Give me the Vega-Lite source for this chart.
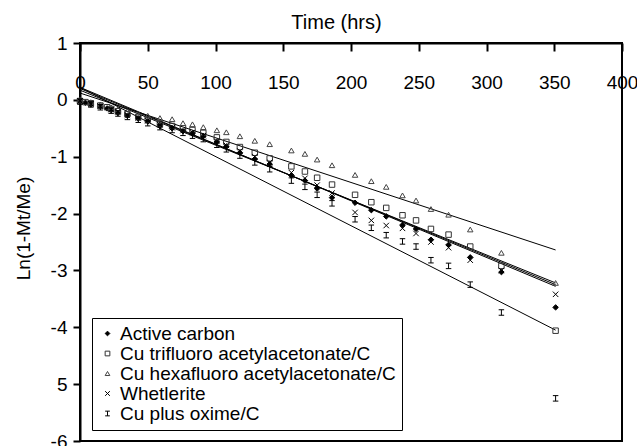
{
  "$schema": "https://vega.github.io/schema/vega-lite/v6.json",
  "width": 542,
  "height": 398,
  "autosize": {"type": "none"},
  "padding": {"left": 80, "top": 43, "right": 15, "bottom": 5},
  "background": "white",
  "config": {
    "font": "Liberation Sans",
    "view": {"stroke": "black", "strokeWidth": 2},
    "axis": {"labelColor": "black", "titleColor": "black", "tickColor": "black", "domainColor": "black", "grid": false, "labelFontSize": 19, "titleFontSize": 20, "titleFontWeight": "normal", "tickWidth": 2}
  },
  "datasets": {
    "fits": [
      {"series": "Cu hexafluoro acetylacetonate/C", "t": 0, "v": 0.12},
      {"series": "Cu hexafluoro acetylacetonate/C", "t": 351, "v": -2.64},
      {"series": "Cu trifluoro acetylacetonate/C", "t": 0, "v": 0.17},
      {"series": "Cu trifluoro acetylacetonate/C", "t": 351, "v": -3.22},
      {"series": "Active carbon", "t": 0, "v": 0.22},
      {"series": "Active carbon", "t": 351, "v": -3.28},
      {"series": "Whetlerite", "t": 0, "v": 0.2},
      {"series": "Whetlerite", "t": 351, "v": -3.25},
      {"series": "Cu plus oxime/C", "t": 0, "v": 0.22},
      {"series": "Cu plus oxime/C", "t": 351, "v": -4.05}
    ],
    "points": [
      {"series": "Active carbon", "t": 0, "v": -0.03},
      {"series": "Active carbon", "t": 4, "v": -0.05},
      {"series": "Active carbon", "t": 8, "v": -0.08},
      {"series": "Active carbon", "t": 15, "v": -0.12},
      {"series": "Active carbon", "t": 20, "v": -0.15},
      {"series": "Active carbon", "t": 23, "v": -0.18},
      {"series": "Active carbon", "t": 28, "v": -0.23},
      {"series": "Active carbon", "t": 35, "v": -0.28},
      {"series": "Active carbon", "t": 43, "v": -0.33},
      {"series": "Active carbon", "t": 50, "v": -0.38},
      {"series": "Active carbon", "t": 59, "v": -0.46},
      {"series": "Active carbon", "t": 68, "v": -0.5},
      {"series": "Active carbon", "t": 76, "v": -0.55},
      {"series": "Active carbon", "t": 83, "v": -0.59},
      {"series": "Active carbon", "t": 91, "v": -0.64},
      {"series": "Active carbon", "t": 101, "v": -0.74},
      {"series": "Active carbon", "t": 108, "v": -0.82},
      {"series": "Active carbon", "t": 118, "v": -0.93},
      {"series": "Active carbon", "t": 129, "v": -1.04},
      {"series": "Active carbon", "t": 140, "v": -1.13},
      {"series": "Active carbon", "t": 156, "v": -1.33},
      {"series": "Active carbon", "t": 166, "v": -1.42},
      {"series": "Active carbon", "t": 175, "v": -1.56},
      {"series": "Active carbon", "t": 186, "v": -1.72},
      {"series": "Active carbon", "t": 203, "v": -1.81},
      {"series": "Active carbon", "t": 215, "v": -1.94},
      {"series": "Active carbon", "t": 226, "v": -2.05},
      {"series": "Active carbon", "t": 238, "v": -2.2},
      {"series": "Active carbon", "t": 248, "v": -2.27},
      {"series": "Active carbon", "t": 259, "v": -2.46},
      {"series": "Active carbon", "t": 272, "v": -2.55},
      {"series": "Active carbon", "t": 288, "v": -2.77},
      {"series": "Active carbon", "t": 311, "v": -3.03},
      {"series": "Active carbon", "t": 351, "v": -3.65},
      {"series": "Cu trifluoro acetylacetonate/C", "t": 0, "v": -0.02},
      {"series": "Cu trifluoro acetylacetonate/C", "t": 4, "v": -0.04},
      {"series": "Cu trifluoro acetylacetonate/C", "t": 8, "v": -0.06},
      {"series": "Cu trifluoro acetylacetonate/C", "t": 15, "v": -0.1},
      {"series": "Cu trifluoro acetylacetonate/C", "t": 20, "v": -0.13},
      {"series": "Cu trifluoro acetylacetonate/C", "t": 23, "v": -0.16},
      {"series": "Cu trifluoro acetylacetonate/C", "t": 28, "v": -0.2},
      {"series": "Cu trifluoro acetylacetonate/C", "t": 35, "v": -0.25},
      {"series": "Cu trifluoro acetylacetonate/C", "t": 43, "v": -0.3},
      {"series": "Cu trifluoro acetylacetonate/C", "t": 50, "v": -0.35},
      {"series": "Cu trifluoro acetylacetonate/C", "t": 59, "v": -0.42},
      {"series": "Cu trifluoro acetylacetonate/C", "t": 68, "v": -0.46},
      {"series": "Cu trifluoro acetylacetonate/C", "t": 76, "v": -0.5},
      {"series": "Cu trifluoro acetylacetonate/C", "t": 83, "v": -0.53},
      {"series": "Cu trifluoro acetylacetonate/C", "t": 91, "v": -0.58},
      {"series": "Cu trifluoro acetylacetonate/C", "t": 101, "v": -0.66},
      {"series": "Cu trifluoro acetylacetonate/C", "t": 108, "v": -0.74},
      {"series": "Cu trifluoro acetylacetonate/C", "t": 118, "v": -0.83},
      {"series": "Cu trifluoro acetylacetonate/C", "t": 129, "v": -0.93},
      {"series": "Cu trifluoro acetylacetonate/C", "t": 140, "v": -1.03},
      {"series": "Cu trifluoro acetylacetonate/C", "t": 156, "v": -1.17},
      {"series": "Cu trifluoro acetylacetonate/C", "t": 166, "v": -1.26},
      {"series": "Cu trifluoro acetylacetonate/C", "t": 175, "v": -1.37},
      {"series": "Cu trifluoro acetylacetonate/C", "t": 186, "v": -1.49},
      {"series": "Cu trifluoro acetylacetonate/C", "t": 203, "v": -1.67},
      {"series": "Cu trifluoro acetylacetonate/C", "t": 215, "v": -1.8},
      {"series": "Cu trifluoro acetylacetonate/C", "t": 226, "v": -1.9},
      {"series": "Cu trifluoro acetylacetonate/C", "t": 238, "v": -2.03},
      {"series": "Cu trifluoro acetylacetonate/C", "t": 248, "v": -2.12},
      {"series": "Cu trifluoro acetylacetonate/C", "t": 259, "v": -2.27},
      {"series": "Cu trifluoro acetylacetonate/C", "t": 272, "v": -2.37},
      {"series": "Cu trifluoro acetylacetonate/C", "t": 288, "v": -2.58},
      {"series": "Cu trifluoro acetylacetonate/C", "t": 311, "v": -2.92},
      {"series": "Cu trifluoro acetylacetonate/C", "t": 351, "v": -4.06},
      {"series": "Cu hexafluoro acetylacetonate/C", "t": 0, "v": 0.0},
      {"series": "Cu hexafluoro acetylacetonate/C", "t": 8, "v": -0.04},
      {"series": "Cu hexafluoro acetylacetonate/C", "t": 15, "v": -0.08},
      {"series": "Cu hexafluoro acetylacetonate/C", "t": 23, "v": -0.13},
      {"series": "Cu hexafluoro acetylacetonate/C", "t": 28, "v": -0.16},
      {"series": "Cu hexafluoro acetylacetonate/C", "t": 35, "v": -0.2},
      {"series": "Cu hexafluoro acetylacetonate/C", "t": 43, "v": -0.24},
      {"series": "Cu hexafluoro acetylacetonate/C", "t": 50, "v": -0.28},
      {"series": "Cu hexafluoro acetylacetonate/C", "t": 59, "v": -0.32},
      {"series": "Cu hexafluoro acetylacetonate/C", "t": 68, "v": -0.34},
      {"series": "Cu hexafluoro acetylacetonate/C", "t": 76, "v": -0.41},
      {"series": "Cu hexafluoro acetylacetonate/C", "t": 83, "v": -0.43},
      {"series": "Cu hexafluoro acetylacetonate/C", "t": 91, "v": -0.48},
      {"series": "Cu hexafluoro acetylacetonate/C", "t": 101, "v": -0.535},
      {"series": "Cu hexafluoro acetylacetonate/C", "t": 108, "v": -0.57},
      {"series": "Cu hexafluoro acetylacetonate/C", "t": 118, "v": -0.64},
      {"series": "Cu hexafluoro acetylacetonate/C", "t": 129, "v": -0.72},
      {"series": "Cu hexafluoro acetylacetonate/C", "t": 140, "v": -0.78},
      {"series": "Cu hexafluoro acetylacetonate/C", "t": 156, "v": -0.89},
      {"series": "Cu hexafluoro acetylacetonate/C", "t": 166, "v": -0.95},
      {"series": "Cu hexafluoro acetylacetonate/C", "t": 175, "v": -1.05},
      {"series": "Cu hexafluoro acetylacetonate/C", "t": 186, "v": -1.15},
      {"series": "Cu hexafluoro acetylacetonate/C", "t": 203, "v": -1.32},
      {"series": "Cu hexafluoro acetylacetonate/C", "t": 215, "v": -1.43},
      {"series": "Cu hexafluoro acetylacetonate/C", "t": 226, "v": -1.53},
      {"series": "Cu hexafluoro acetylacetonate/C", "t": 238, "v": -1.68},
      {"series": "Cu hexafluoro acetylacetonate/C", "t": 248, "v": -1.77},
      {"series": "Cu hexafluoro acetylacetonate/C", "t": 259, "v": -1.92},
      {"series": "Cu hexafluoro acetylacetonate/C", "t": 272, "v": -2.02},
      {"series": "Cu hexafluoro acetylacetonate/C", "t": 288, "v": -2.28},
      {"series": "Cu hexafluoro acetylacetonate/C", "t": 311, "v": -2.69},
      {"series": "Cu hexafluoro acetylacetonate/C", "t": 351, "v": -3.22},
      {"series": "Whetlerite", "t": 0, "v": -0.02},
      {"series": "Whetlerite", "t": 8, "v": -0.07},
      {"series": "Whetlerite", "t": 15, "v": -0.11},
      {"series": "Whetlerite", "t": 23, "v": -0.17},
      {"series": "Whetlerite", "t": 28, "v": -0.21},
      {"series": "Whetlerite", "t": 35, "v": -0.27},
      {"series": "Whetlerite", "t": 43, "v": -0.32},
      {"series": "Whetlerite", "t": 50, "v": -0.37},
      {"series": "Whetlerite", "t": 59, "v": -0.44},
      {"series": "Whetlerite", "t": 68, "v": -0.49},
      {"series": "Whetlerite", "t": 76, "v": -0.54},
      {"series": "Whetlerite", "t": 83, "v": -0.58},
      {"series": "Whetlerite", "t": 91, "v": -0.63},
      {"series": "Whetlerite", "t": 101, "v": -0.73},
      {"series": "Whetlerite", "t": 108, "v": -0.8},
      {"series": "Whetlerite", "t": 118, "v": -0.9},
      {"series": "Whetlerite", "t": 129, "v": -1.0},
      {"series": "Whetlerite", "t": 140, "v": -1.1},
      {"series": "Whetlerite", "t": 156, "v": -1.28},
      {"series": "Whetlerite", "t": 166, "v": -1.38},
      {"series": "Whetlerite", "t": 175, "v": -1.5},
      {"series": "Whetlerite", "t": 186, "v": -1.64},
      {"series": "Whetlerite", "t": 203, "v": -1.98},
      {"series": "Whetlerite", "t": 215, "v": -2.12},
      {"series": "Whetlerite", "t": 226, "v": -2.21},
      {"series": "Whetlerite", "t": 238, "v": -2.26},
      {"series": "Whetlerite", "t": 248, "v": -2.35},
      {"series": "Whetlerite", "t": 259, "v": -2.5},
      {"series": "Whetlerite", "t": 272, "v": -2.6},
      {"series": "Whetlerite", "t": 288, "v": -2.82},
      {"series": "Whetlerite", "t": 311, "v": -3.0},
      {"series": "Whetlerite", "t": 351, "v": -3.42},
      {"series": "Cu plus oxime/C", "t": 0, "v": -0.03},
      {"series": "Cu plus oxime/C", "t": 8, "v": -0.08},
      {"series": "Cu plus oxime/C", "t": 15, "v": -0.13},
      {"series": "Cu plus oxime/C", "t": 23, "v": -0.19},
      {"series": "Cu plus oxime/C", "t": 28, "v": -0.24},
      {"series": "Cu plus oxime/C", "t": 35, "v": -0.3},
      {"series": "Cu plus oxime/C", "t": 43, "v": -0.35},
      {"series": "Cu plus oxime/C", "t": 50, "v": -0.41},
      {"series": "Cu plus oxime/C", "t": 59, "v": -0.48},
      {"series": "Cu plus oxime/C", "t": 68, "v": -0.53},
      {"series": "Cu plus oxime/C", "t": 76, "v": -0.58},
      {"series": "Cu plus oxime/C", "t": 83, "v": -0.63},
      {"series": "Cu plus oxime/C", "t": 91, "v": -0.69},
      {"series": "Cu plus oxime/C", "t": 101, "v": -0.79},
      {"series": "Cu plus oxime/C", "t": 108, "v": -0.87},
      {"series": "Cu plus oxime/C", "t": 118, "v": -0.98},
      {"series": "Cu plus oxime/C", "t": 129, "v": -1.1},
      {"series": "Cu plus oxime/C", "t": 140, "v": -1.22},
      {"series": "Cu plus oxime/C", "t": 156, "v": -1.42},
      {"series": "Cu plus oxime/C", "t": 166, "v": -1.53},
      {"series": "Cu plus oxime/C", "t": 175, "v": -1.67},
      {"series": "Cu plus oxime/C", "t": 186, "v": -1.82},
      {"series": "Cu plus oxime/C", "t": 203, "v": -2.1},
      {"series": "Cu plus oxime/C", "t": 215, "v": -2.25},
      {"series": "Cu plus oxime/C", "t": 226, "v": -2.38},
      {"series": "Cu plus oxime/C", "t": 238, "v": -2.49},
      {"series": "Cu plus oxime/C", "t": 248, "v": -2.58},
      {"series": "Cu plus oxime/C", "t": 259, "v": -2.82},
      {"series": "Cu plus oxime/C", "t": 272, "v": -2.92},
      {"series": "Cu plus oxime/C", "t": 288, "v": -3.25},
      {"series": "Cu plus oxime/C", "t": 311, "v": -3.74},
      {"series": "Cu plus oxime/C", "t": 351, "v": -5.25}
    ]
  },
  "layer": [
    {
      "data": {"name": "fits"},
      "mark": {"type": "line", "color": "black", "strokeWidth": 1},
      "encoding": {
        "x": {"field": "t", "type": "quantitative", "scale": {"domain": [0, 400], "nice": false},
          "axis": {"orient": "top", "values": [0, 50, 100, 150, 200, 250, 300, 350, 400], "tickSize": -8, "labelPadding": -31, "labelBaseline": "middle", "labelFlush": false, "labelOverlap": false, "domain": true, "domainWidth": 2, "title": "Time (hrs)", "titleX": 256, "titleY": -15, "titleBaseline": "alphabetic", "titleAnchor": "start", "titleAlign": "center"}},
        "y": {"field": "v", "type": "quantitative", "scale": {"domain": [-6, 1], "nice": false, "zero": false},
          "axis": {"orient": "left", "values": [-6, -5, -4, -3, -2, -1, 0, 1], "tickSize": 7, "labelPadding": 6, "labelExpr": "datum.value == -5 ? '5' : '' + datum.value", "domain": true, "domainWidth": 2, "title": "Ln(1-Mt/Me)", "titleFontSize": 19, "titleX": -57, "titleY": 185, "titleBaseline": "middle", "titleAlign": "center", "titleAngle": -90}},
        "detail": {"field": "series", "type": "nominal"}
      }
    },
    {
      "data": {"name": "points"},
      "mark": {"type": "point", "filled": false, "strokeWidth": 1, "opacity": 1, "size": 30},
      "encoding": {
        "x": {"field": "t", "type": "quantitative"},
        "y": {"field": "v", "type": "quantitative"},
        "shape": {"field": "series", "type": "nominal",
          "scale": {"domain": ["Active carbon", "Cu trifluoro acetylacetonate/C", "Cu hexafluoro acetylacetonate/C", "Whetlerite", "Cu plus oxime/C"],
                    "range": ["diamond", "square", "triangle-up", "M-1,-1L1,1M-1,1L1,-1", "M-1,-1H1M0,-1V1M-1,1H1"]},
          "legend": {"title": null, "orient": "none", "legendX": 12, "legendY": 275, "labelFontSize": 19, "labelColor": "black", "strokeColor": "black", "fillColor": "white", "padding": 6, "rowPadding": 0, "symbolSize": 22, "symbolStrokeWidth": 1, "labelOffset": 3, "labelLimit": 400}},
        "fill": {"field": "series", "type": "nominal",
          "scale": {"domain": ["Active carbon", "Cu trifluoro acetylacetonate/C", "Cu hexafluoro acetylacetonate/C", "Whetlerite", "Cu plus oxime/C"],
                    "range": ["black", "transparent", "transparent", "transparent", "transparent"]},
          "legend": {"title": null, "orient": "none", "legendX": 12, "legendY": 275, "labelFontSize": 19, "labelColor": "black", "strokeColor": "black", "fillColor": "white", "padding": 6, "rowPadding": 0, "symbolSize": 22, "symbolStrokeWidth": 1, "labelOffset": 3, "labelLimit": 400}},
        "stroke": {"field": "series", "type": "nominal",
          "scale": {"domain": ["Active carbon", "Cu trifluoro acetylacetonate/C", "Cu hexafluoro acetylacetonate/C", "Whetlerite", "Cu plus oxime/C"],
                    "range": ["black", "#333333", "#444444", "black", "black"]},
          "legend": {"title": null, "orient": "none", "legendX": 12, "legendY": 275, "labelFontSize": 19, "labelColor": "black", "strokeColor": "black", "fillColor": "white", "padding": 6, "rowPadding": 0, "symbolSize": 22, "symbolStrokeWidth": 1, "labelOffset": 3, "labelLimit": 400}}
      }
    }
  ]
}
